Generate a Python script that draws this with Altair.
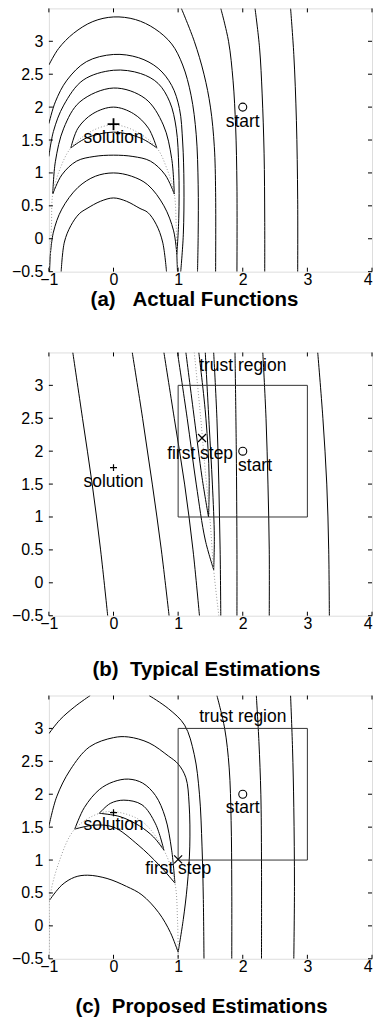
import altair as alt
import pandas as pd

FONT = "Liberation Sans"

# ---------------- shared axis values ----------------
X_TICKS = [-1, 0, 1, 2, 3, 4]
Y_TICKS = [-0.5, 0, 0.5, 1, 1.5, 2, 2.5, 3]
X_DOMAIN = [-1, 4.0]
Y_DOMAIN = [-0.5, 3.5]

# ---------------- panel (a): actual functions ----------------
a_c1 = [(-1.0, 2.64), (-0.85, 2.89), (-0.62, 3.12), (-0.32, 3.30), (0.0, 3.37), (0.34, 3.33),
        (0.64, 3.19), (0.90, 2.96), (1.07, 2.64), (1.20, 2.18), (1.28, 1.58), (1.31, 0.82),
        (1.31, 0.06), (1.30, -0.5)]
a_c2 = [(-1.0, 1.75), (-0.90, 2.08), (-0.72, 2.41), (-0.42, 2.69), (0.0, 2.80), (0.39, 2.75),
        (0.69, 2.59), (0.90, 2.33), (1.02, 1.98), (1.07, 1.47), (1.09, 0.82), (1.08, 0.06),
        (1.04, -0.5)]
a_c3 = [(-1.0, 1.25), (-0.93, 1.63), (-0.77, 2.03), (-0.47, 2.41), (0.0, 2.56), (0.42, 2.51),
        (0.69, 2.36), (0.87, 2.08), (0.97, 1.68), (1.01, 1.07), (1.01, 0.31), (0.98, -0.24)]
a_c4_outer = [(-0.94, 0.68), (-0.90, 1.17), (-0.77, 1.68), (-0.52, 2.08), (0.0, 2.29),
              (0.49, 2.13), (0.77, 1.73), (0.90, 1.22), (0.94, 0.68)]
a_c4_inner = [(-0.94, 0.68), (-0.80, 0.97), (-0.57, 1.18), (-0.30, 1.25), (0.0, 1.27),
              (0.30, 1.25), (0.57, 1.18), (0.80, 0.97), (0.94, 0.68)]
a_c5_outer = [(-0.66, 1.38), (-0.55, 1.68), (-0.32, 1.90), (0.0, 2.0), (0.31, 1.90),
              (0.54, 1.68), (0.67, 1.38)]
a_c5_inner = [(-0.66, 1.38), (-0.42, 1.53), (0.0, 1.62), (0.42, 1.53), (0.67, 1.38)]
a_c6 = [(-0.98, -0.27), (-0.93, 0.10), (-0.80, 0.45), (-0.55, 0.78), (-0.28, 0.95), (0.0, 1.0),
        (0.28, 0.95), (0.53, 0.82), (0.78, 0.50), (0.93, 0.12), (0.98, -0.24)]
a_c6_left_tail = [(-0.98, -0.27), (-0.99, -0.5)]
a_c6_right_tail = [(0.98, -0.24), (0.99, -0.5)]
a_c7 = [(-0.81, -0.5), (-0.76, -0.05), (-0.66, 0.20), (-0.53, 0.38), (-0.41, 0.46), (-0.2, 0.57),
        (0.0, 0.62), (0.2, 0.57), (0.41, 0.46), (0.53, 0.40), (0.66, 0.22), (0.76, -0.05),
        (0.82, -0.5)]
a_t1 = [(1.05, 3.5), (1.25, 3.0), (1.40, 2.5), (1.50, 2.0), (1.56, 1.4), (1.58, 0.7), (1.58, -0.5)]
a_t2 = [(1.66, 3.5), (1.78, 3.0), (1.85, 2.4), (1.89, 1.7), (1.91, 0.8), (1.91, -0.5)]
a_t3 = [(2.19, 3.5), (2.26, 2.9), (2.30, 2.2), (2.33, 1.3), (2.34, 0.3), (2.34, -0.5)]
a_t4 = [(2.74, 3.5), (2.79, 2.8), (2.83, 1.8), (2.85, 0.6), (2.85, -0.5)]
a_dotted = [(-1.0, -0.5), (-0.98, -0.27), (-0.96, 0.2), (-0.94, 0.68), (-0.82, 1.08), (-0.66, 1.38),
            (-0.35, 1.63), (0.0, 1.73), (0.35, 1.63), (0.67, 1.38), (0.82, 1.08), (0.94, 0.68),
            (0.97, 0.2), (0.98, -0.24), (1.0, -0.5)]

# ---------------- panel (b): typical estimations ----------------
b_l1 = [(-0.63, 3.5), (-0.48, 2.5), (-0.33, 1.5), (-0.20, 0.5), (-0.09, -0.5)]
b_l2 = [(0.29, 3.5), (0.45, 2.5), (0.60, 1.5), (0.74, 0.5), (0.86, -0.5)]
b_l3 = [(0.78, 3.5), (0.94, 2.5), (1.10, 1.5), (1.23, 0.5), (1.33, -0.5)]
b_h1_left = [(0.99, 3.5), (1.14, 2.5), (1.28, 1.5), (1.42, 0.65), (1.55, 0.2)]
b_h1_right = [(1.55, 0.2), (1.56, 0.7), (1.53, 1.5), (1.48, 2.4), (1.42, 3.5)]
b_h2_left = [(1.12, 3.5), (1.25, 2.5), (1.37, 1.6), (1.47, 1.0)]
b_h2_right = [(1.47, 1.0), (1.48, 1.6), (1.43, 2.5), (1.32, 3.5)]
b_l4 = [(1.55, 3.5), (1.60, 2.5), (1.63, 1.5), (1.65, 0.5), (1.66, -0.5)]
b_l5 = [(1.88, 3.5), (1.90, 2.0), (1.91, 0.5), (1.91, -0.5)]
b_l6 = [(2.31, 3.5), (2.36, 2.5), (2.39, 1.5), (2.41, 0.5), (2.41, -0.5)]
b_l7 = [(3.16, 3.5), (3.24, 2.5), (3.30, 1.5), (3.33, 0.5), (3.34, -0.5)]
b_dotted = [(1.25, 3.5), (1.35, 2.5), (1.42, 1.7), (1.49, 1.0), (1.55, 0.2), (1.63, -0.5)]

# ---------------- panel (c): proposed estimations ----------------
c_a_left = [(-1.0, 2.92), (-0.83, 3.13), (-0.6, 3.33), (-0.36, 3.5)]
c_a_right = [(0.55, 3.5), (0.85, 3.3), (1.10, 3.05), (1.25, 2.6), (1.33, 2.0), (1.37, 1.2),
             (1.39, 0.4), (1.40, -0.5)]
c_b = [(-1.0, 1.51), (-0.88, 1.96), (-0.67, 2.37), (-0.37, 2.72), (0.0, 2.86), (0.23, 2.87),
       (0.55, 2.78), (0.85, 2.58), (1.0, 2.46), (1.12, 2.25), (1.17, 1.85), (1.18, 1.2),
       (1.14, 0.6), (1.08, 0.1), (1.0, -0.4)]
c_t1 = [(1.60, 3.5), (1.72, 3.0), (1.79, 2.4), (1.82, 1.6), (1.83, 0.6), (1.83, -0.5)]
c_t2 = [(2.21, 3.5), (2.25, 2.8), (2.28, 2.0), (2.29, 1.0), (2.29, -0.5)]
c_t3 = [(2.74, 3.5), (2.77, 2.7), (2.79, 1.8), (2.80, 0.6), (2.79, -0.5)]
c_small_outer = [(-0.22, 1.71), (-0.05, 1.86), (0.16, 1.91), (0.44, 1.84), (0.65, 1.55), (0.78, 1.15)]
c_small_inner = [(-0.22, 1.71), (0.1, 1.66), (0.40, 1.52), (0.62, 1.35), (0.78, 1.15)]
c_mid_outer = [(-0.60, 1.47), (-0.45, 1.80), (-0.22, 2.07), (0.0, 2.19), (0.23, 2.23), (0.45, 2.17),
               (0.65, 1.98), (0.80, 1.65), (0.90, 1.15), (0.95, 0.65)]
c_mid_inner = [(-0.60, 1.47), (-0.3, 1.53), (0.0, 1.50), (0.38, 1.23), (0.70, 0.93), (0.95, 0.65)]
c_big_lower = [(-0.99, 0.39), (-0.80, 0.62), (-0.60, 0.74), (-0.40, 0.77), (-0.1, 0.72), (0.2, 0.60),
               (0.44, 0.47), (0.70, 0.20), (0.88, -0.10), (1.0, -0.40)]
c_dotted = [(-1.0, -0.5), (-0.99, 0.0), (-0.99, 0.39), (-0.85, 0.95), (-0.60, 1.47), (-0.22, 1.71),
            (0.05, 1.73), (0.45, 1.58), (0.78, 1.15), (0.95, 0.65), (0.99, 0.1), (1.0, -0.4), (1.0, -0.5)]

# ---------------- annotations ----------------
a_texts = [("solution", 0.0, 1.46), ("start", 2.0, 1.70)]
b_texts = [("trust region", 2.0, 3.22), ("first step", 1.34, 1.885), ("solution", 0.0, 1.46),
           ("start", 2.19, 1.70)]
c_texts = [("trust region", 2.0, 3.10), ("first step", 1.0, 0.79), ("solution", 0.0, 1.46),
           ("start", 2.0, 1.71)]
a_solution = [(0.0, 1.74)]
b_solution = [(0.0, 1.75)]
c_solution = [(0.0, 1.72)]
start_pt = [(2.0, 2.0)]
b_first = [(1.37, 2.20)]
c_first = [(1.0, 1.01)]
trust_box = [(1.0, 3.0, 1.0, 3.0)]  # x, x2, y, y2

PLUS = "M-1,0L1,0M0,-1L0,1"
CROSS = "M-1,-1L1,1M-1,1L1,-1"

W, H = 324, 264
xs = alt.Scale(domain=X_DOMAIN, nice=False, zero=False)
ys = alt.Scale(domain=Y_DOMAIN, nice=False, zero=False)
AX_X = alt.Axis(values=X_TICKS, format="~g", tickSize=0, domain=False, grid=False,
                labelFont=FONT, labelFontSize=16, labelColor="black", labelPadding=0,
                labelAlign={"expr": "datum.value == 4 ? 'right' : 'center'"},
                labelFlush=False, labelOverlap=False, title=None)
AX_Y = alt.Axis(values=Y_TICKS, format="~g", tickSize=0, domain=False, grid=False,
                labelFont=FONT, labelFontSize=16, labelColor="black", labelPadding=6,
                labelOverlap=False, title=None)


def X(f):
    return alt.X(f, scale=xs, axis=AX_X)


def Y(f):
    return alt.Y(f, scale=ys, axis=AX_Y)


def curves_df(curves):
    rows = []
    for cid, pts in enumerate(curves):
        for k, (x, y) in enumerate(pts):
            rows.append({"c": cid, "k": k, "x": x, "y": y})
    return pd.DataFrame(rows)


def pts_df(pts):
    return pd.DataFrame([{"x": x, "y": y} for x, y in pts])


def panel(solid, dotted, texts, sol, plus_size, plus_w, title, t_offset, t_dx,
          first=None, box=False):
    layers = []
    layers.append(alt.Chart(curves_df(solid)).mark_line(
        color="black", strokeWidth=1, interpolate="catmull-rom", clip=True
    ).encode(x=X("x:Q"), y=Y("y:Q"), detail="c:N", order="k:Q"))
    layers.append(alt.Chart(curves_df([dotted])).mark_line(
        color="#9a9a9a", strokeWidth=1, strokeDash=[1, 2], interpolate="catmull-rom", clip=True
    ).encode(x=X("x:Q"), y=Y("y:Q"), detail="c:N", order="k:Q"))
    if box:
        bdf = pd.DataFrame([{"x": a, "x2": b, "y": c, "y2": d} for a, b, c, d in trust_box])
        layers.append(alt.Chart(bdf).mark_rect(fill=None, stroke="#333333", strokeWidth=1).encode(
            x=X("x:Q"), x2="x2:Q", y=Y("y:Q"), y2="y2:Q"))
    layers.append(alt.Chart(pts_df(sol)).mark_point(
        shape=PLUS, filled=False, stroke="black", strokeWidth=plus_w, size=plus_size, opacity=1
    ).encode(x=X("x:Q"), y=Y("y:Q")))
    layers.append(alt.Chart(pts_df(start_pt)).mark_point(
        shape="circle", filled=False, stroke="black", strokeWidth=1.1, size=64, opacity=1
    ).encode(x=X("x:Q"), y=Y("y:Q")))
    if first is not None:
        layers.append(alt.Chart(pts_df(first)).mark_point(
            shape=CROSS, filled=False, stroke="black", strokeWidth=1.2, size=64, opacity=1
        ).encode(x=X("x:Q"), y=Y("y:Q")))
    tdf = pd.DataFrame([{"t": t, "x": x, "y": y} for t, x, y in texts])
    layers.append(alt.Chart(tdf).mark_text(
        font=FONT, fontSize=17.5, color="black", align="center", baseline="alphabetic"
    ).encode(x=X("x:Q"), y=Y("y:Q"), text="t:N"))
    # inward ticks on all four sides
    xt = pd.DataFrame({"x": X_TICKS})
    yt = pd.DataFrame({"y": Y_TICKS})
    layers.append(alt.Chart(xt).mark_rule(color="black", strokeWidth=1).encode(
        x=X("x:Q"), y=alt.value(H), y2=alt.value(H - 4)))
    layers.append(alt.Chart(xt).mark_rule(color="black", strokeWidth=1).encode(
        x=X("x:Q"), y=alt.value(0), y2=alt.value(4)))
    layers.append(alt.Chart(yt).mark_rule(color="black", strokeWidth=1).encode(
        y=Y("y:Q"), x=alt.value(0), x2=alt.value(4)))
    layers.append(alt.Chart(yt).mark_rule(color="black", strokeWidth=1).encode(
        y=Y("y:Q"), x=alt.value(W), x2=alt.value(W - 4)))
    return alt.layer(*layers).properties(
        width=W, height=H,
        title=alt.TitleParams(text=title, orient="bottom", anchor="middle", font=FONT,
                              fontSize=20.5, fontWeight="bold", color="black",
                              offset=t_offset, dx=t_dx))


pa = panel([a_c1, a_c2, a_c3, a_c4_outer, a_c4_inner, a_c5_outer, a_c5_inner, a_c6,
            a_c6_left_tail, a_c6_right_tail, a_c7, a_t1, a_t2, a_t3, a_t4],
           a_dotted, a_texts, a_solution, 140, 1.8,
           "(a)\u00a0\u00a0\u00a0Actual Functions", 2, -16)
pb = panel([b_l1, b_l2, b_l3, b_h1_left, b_h1_right, b_h2_left, b_h2_right, b_l4, b_l5, b_l6, b_l7],
           b_dotted, b_texts, b_solution, 49, 1.2,
           "(b)\u00a0\u00a0Typical Estimations", 28, -4, first=b_first, box=True)
pc = panel([c_a_left, c_a_right, c_b, c_t1, c_t2, c_t3, c_small_outer, c_small_inner,
            c_mid_outer, c_mid_inner, c_big_lower],
           c_dotted, c_texts, c_solution, 49, 1.2,
           "(c)\u00a0\u00a0Proposed Estimations", 22, -9, first=c_first, box=True)

chart = alt.vconcat(alt.vconcat(pa, pb, spacing=41), pc, spacing=14).properties(
    padding={"left": 2, "top": -2, "right": 0, "bottom": 0}
).configure_view(stroke="black", strokeWidth=1).configure(background="white")

chart.save("out.html", embed_options={"renderer": "svg", "actions": False})
